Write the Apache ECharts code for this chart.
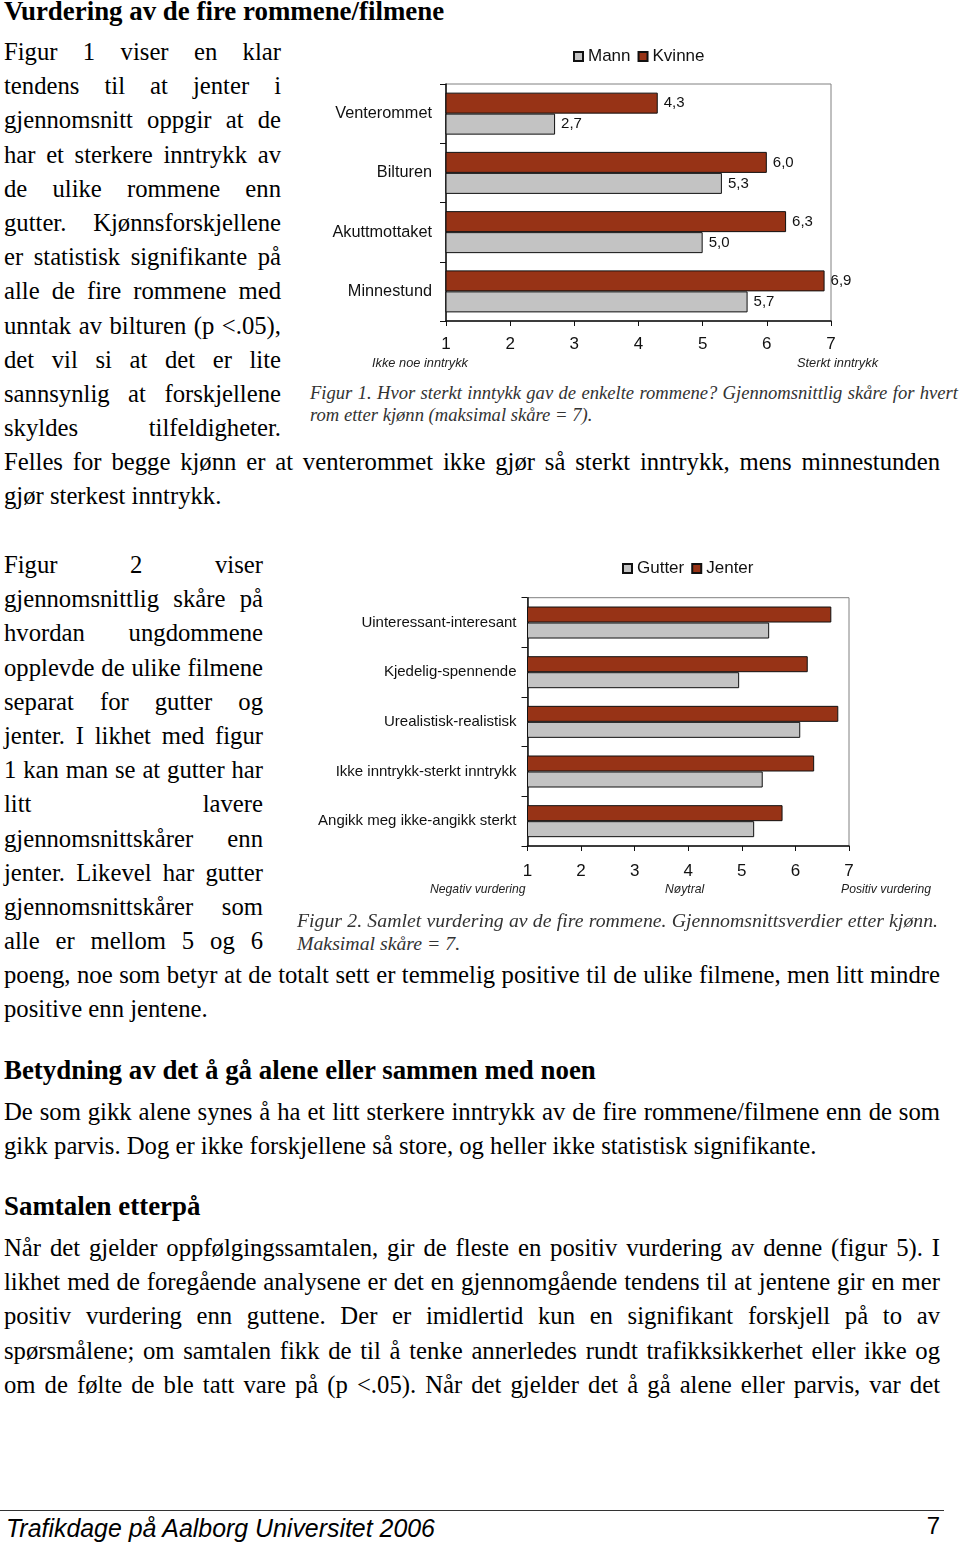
<!DOCTYPE html>
<html lang="no">
<head>
<meta charset="utf-8">
<script src="https://cdn.jsdelivr.net/npm/echarts@6/dist/echarts.min.js"></script>
<style>
html,body{margin:0;padding:0;background:#fff;}
body{width:960px;height:1543px;position:relative;overflow:hidden;font-family:"Liberation Serif","Times New Roman",serif;color:#000;}
.blk{position:absolute;left:4px;font-size:24.7px;line-height:34.2px;}
.ln{white-space:nowrap;height:34.2px;}
.j{text-align:justify;text-align-last:justify;}
.c1{width:277px;}
.c2{width:259px;}
.full{width:936px;}
h1,h2{position:absolute;left:4px;margin:0;font-size:26.9px;line-height:30px;font-weight:bold;white-space:nowrap;}
.cap{position:absolute;font-style:italic;line-height:22.5px;color:#333;white-space:nowrap;}
.capA{font-size:18.6px;}
.capB{font-size:19.8px;}
#chart1{position:absolute;left:300px;top:30px;width:660px;height:350px;}
#chart2{position:absolute;left:290px;top:545px;width:670px;height:365px;}
#footline{position:absolute;left:0;top:1510px;width:944px;height:0;border-top:1.5px solid #333;}
#foot{position:absolute;left:6px;top:1513px;font-family:"Liberation Sans",Arial,sans-serif;font-style:italic;font-size:24.9px;line-height:30px;white-space:nowrap;}
#pageno{position:absolute;right:20px;top:1511px;font-family:"Liberation Sans",Arial,sans-serif;font-size:24px;line-height:30px;}
</style>
</head>
<body>
<h1 style="top:-4px">Vurdering av de fire rommene/filmene</h1>

<div class="blk" style="top:35px">
<div class="ln j c1">Figur 1 viser en klar</div>
<div class="ln j c1">tendens til at jenter i</div>
<div class="ln j c1">gjennomsnitt oppgir at de</div>
<div class="ln j c1">har et sterkere inntrykk av</div>
<div class="ln j c1">de ulike rommene enn</div>
<div class="ln j c1">gutter. Kjønnsforskjellene</div>
<div class="ln j c1">er statistisk signifikante på</div>
<div class="ln j c1">alle de fire rommene med</div>
<div class="ln j c1">unntak av bilturen (p &lt;.05),</div>
<div class="ln j c1">det vil si at det er lite</div>
<div class="ln j c1">sannsynlig at forskjellene</div>
<div class="ln j c1">skyldes tilfeldigheter.</div>
<div class="ln j full">Felles for begge kjønn er at venterommet ikke gjør så sterkt inntrykk, mens minnestunden</div>
<div class="ln full">gjør sterkest inntrykk.</div>
</div>

<div id="chart1"></div>
<div class="cap capA j" style="left:310px;top:382px;width:648px">Figur 1. Hvor sterkt inntykk gav de enkelte rommene? Gjennomsnittlig skåre for hvert</div>
<div class="cap capA" style="left:310px;top:404px">rom etter kjønn (maksimal skåre = 7).</div>

<div class="blk" style="top:548px">
<div class="ln j c2">Figur 2 viser</div>
<div class="ln j c2">gjennomsnittlig skåre på</div>
<div class="ln j c2">hvordan ungdommene</div>
<div class="ln j c2">opplevde de ulike filmene</div>
<div class="ln j c2">separat for gutter og</div>
<div class="ln j c2">jenter. I likhet med figur</div>
<div class="ln j c2">1 kan man se at gutter har</div>
<div class="ln j c2">litt lavere</div>
<div class="ln j c2">gjennomsnittskårer enn</div>
<div class="ln j c2">jenter. Likevel har gutter</div>
<div class="ln j c2">gjennomsnittskårer som</div>
<div class="ln j c2">alle er mellom 5 og 6</div>
<div class="ln j full">poeng, noe som betyr at de totalt sett er temmelig positive til de ulike filmene, men litt mindre</div>
<div class="ln full">positive enn jentene.</div>
</div>

<div id="chart2"></div>
<div class="cap capB j" style="left:297px;top:909px;width:641px">Figur 2. Samlet vurdering av de fire rommene. Gjennomsnittsverdier etter kjønn.</div>
<div class="cap capB" style="left:297px;top:932px">Maksimal skåre = 7.</div>

<h2 style="top:1055px">Betydning av det å gå alene eller sammen med noen</h2>
<div class="blk" style="top:1095px">
<div class="ln j full">De som gikk alene synes å ha et litt sterkere inntrykk av de fire rommene/filmene enn de som</div>
<div class="ln full">gikk parvis. Dog er ikke forskjellene så store, og heller ikke statistisk signifikante.</div>
</div>

<h2 style="top:1191px">Samtalen etterpå</h2>
<div class="blk" style="top:1231px">
<div class="ln j full">Når det gjelder oppfølgingssamtalen, gir de fleste en positiv vurdering av denne (figur 5). I</div>
<div class="ln j full">likhet med de foregående analysene er det en gjennomgående tendens til at jentene gir en mer</div>
<div class="ln j full">positiv vurdering enn guttene. Der er imidlertid kun en signifikant forskjell på to av</div>
<div class="ln j full">spørsmålene; om samtalen fikk de til å tenke annerledes rundt trafikksikkerhet eller ikke og</div>
<div class="ln j full">om de følte de ble tatt vare på (p &lt;.05). Når det gjelder det å gå alene eller parvis, var det</div>
</div>

<div id="footline"></div>
<div id="foot">Trafikdage på Aalborg Universitet 2006</div>
<div id="pageno">7</div>

<script>
// ---- Figur 1 data ----
const fig1Categories = ['Venterommet', 'Bilturen', 'Akuttmottaket', 'Minnestund'];
const fig1Mann = [2.7, 5.3, 5.0, 5.7];
const fig1Kvinne = [4.3, 6.0, 6.3, 6.9];
const fig1AxisEnds = ['Ikke noe inntrykk', 'Sterkt inntrykk'];

// ---- Figur 2 data ----
const fig2Categories = ['Uinteressant-interesant', 'Kjedelig-spennende', 'Urealistisk-realistisk', 'Ikke inntrykk-sterkt inntrykk', 'Angikk meg ikke-angikk sterkt'];
const fig2Gutter = [5.51, 4.95, 6.09, 5.39, 5.23];
const fig2Jenter = [6.67, 6.23, 6.80, 6.35, 5.76];
const fig2AxisEnds = ['Negativ vurdering', 'Nøytral', 'Positiv vurdering'];

const scaleMin = 1, scaleMax = 7, scaleStep = 1;

const RED = '#973316';
const GREY = '#c3c3c3';
const SANS = '"Liberation Sans", Arial, sans-serif';

function valueAxis(labelMargin) {
  return {
    type: 'value', min: scaleMin, max: scaleMax, interval: scaleStep,
    axisLine: { show: true, lineStyle: { color: '#111', width: 1.5 } },
    axisTick: { show: true, length: 5, lineStyle: { color: '#111' } },
    axisLabel: { fontFamily: SANS, fontSize: 17, color: '#111', margin: labelMargin },
    splitLine: { show: false }
  };
}
function catAxis(cats, fs, margin) {
  return {
    type: 'category', data: cats, inverse: true,
    axisLine: { show: true, lineStyle: { color: '#111', width: 1.5 } },
    axisTick: { show: true, length: 6, lineStyle: { color: '#111' } },
    axisLabel: { fontFamily: SANS, fontSize: fs, color: '#111', margin: margin }
  };
}
function barSeries(name, data, color, width, labels) {
  return {
    name: name, type: 'bar', data: data, barWidth: width, barGap: '0%',
    itemStyle: { color: color, borderColor: '#111', borderWidth: 1 },
    label: labels ? {
      show: true, position: 'right', distance: 6, fontFamily: SANS, fontSize: 15, color: '#111',
      formatter: p => p.value.toFixed(1).replace('.', ',')
    } : { show: false },
    emphasis: { disabled: true }, animation: false
  };
}
function subText(x, y, text, fs) {
  return { type: 'text', x: x, y: y, style: { text: text, fontFamily: SANS, fontStyle: 'italic', fontSize: fs, fill: '#222', verticalAlign: 'middle' } };
}

const c1 = echarts.init(document.getElementById('chart1'), null, { renderer: 'canvas' });
c1.setOption({
  animation: false,
  legend: {
    data: ['Mann', 'Kvinne'], left: 273, top: 18, padding: 0, icon: 'rect', itemWidth: 9, itemHeight: 9, itemGap: 7,
    textStyle: { fontFamily: SANS, fontSize: 17, color: '#111' }
  },
  grid: { left: 146, top: 54, width: 385, height: 237, show: true, borderColor: '#808080', borderWidth: 1, containLabel: false },
  xAxis: valueAxis(15),
  yAxis: catAxis(fig1Categories, 16.3, 14),
  series: [
    barSeries('Kvinne', fig1Kvinne, RED, 21, true),
    barSeries('Mann', fig1Mann, GREY, 21, true)
  ],
  graphic: [subText(72, 333, fig1AxisEnds[0], 12.8), subText(497, 333, fig1AxisEnds[1], 12.8)]
});

const c2 = echarts.init(document.getElementById('chart2'), null, { renderer: 'canvas' });
c2.setOption({
  animation: false,
  legend: {
    data: ['Gutter', 'Jenter'], left: 332, top: 15, padding: 0, icon: 'rect', itemWidth: 9, itemHeight: 9, itemGap: 7,
    textStyle: { fontFamily: SANS, fontSize: 17, color: '#111' }
  },
  grid: { left: 237.5, top: 52.7, width: 321.5, height: 248.3, show: true, borderColor: '#808080', borderWidth: 1, containLabel: false },
  xAxis: valueAxis(17),
  yAxis: catAxis(fig2Categories, 15, 11),
  series: [
    barSeries('Jenter', fig2Jenter, RED, 16, false),
    barSeries('Gutter', fig2Gutter, GREY, 16, false)
  ],
  graphic: [subText(140, 345, fig2AxisEnds[0], 12.2), subText(375, 345, fig2AxisEnds[1], 12.2), subText(551, 345, fig2AxisEnds[2], 12.2)]
});
</script>
</body>
</html>
